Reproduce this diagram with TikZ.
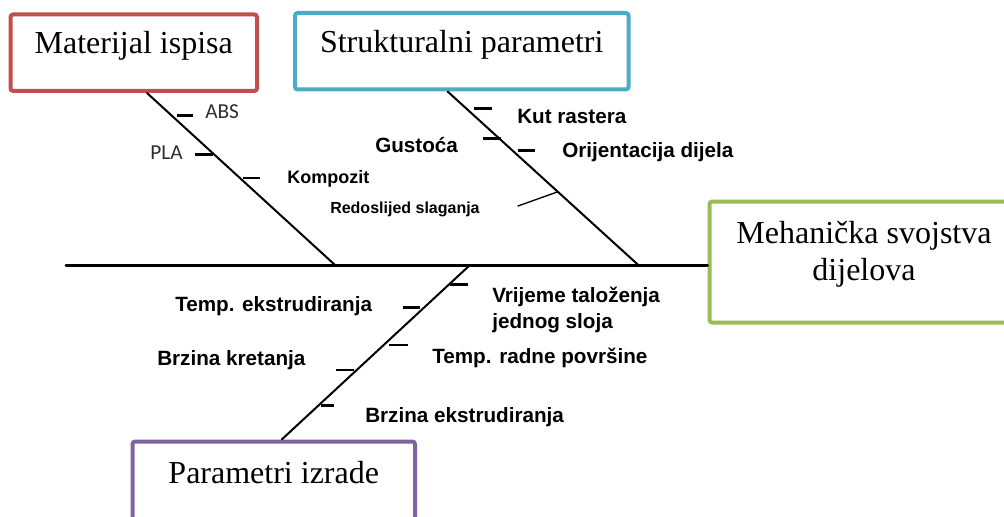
\documentclass[tikz,border=0pt]{standalone}
\usepackage{fontspec}
\setmainfont{Liberation Serif}
\newfontfamily\arialfont{Liberation Sans}
\newfontfamily\calibrifont{Carlito}
\usetikzlibrary{calc}

\definecolor{matred}{HTML}{C0504D}
\definecolor{strblue}{HTML}{4BACC6}
\definecolor{mehgreen}{HTML}{9BBB59}
\definecolor{izrviolet}{HTML}{8064A2}
\definecolor{plaingray}{HTML}{2E2E2E}

\newcommand{\px}{0.75pt}

\begin{document}
\begin{tikzpicture}[x=\px,y=-\px,cap=round,
	causebox/.style={draw, line width=3pt, rounded corners=2pt, fill=white, inner sep=0pt, font=\fontsize{24}{27.75}\selectfont},
	onerow/.style={text height=0.68em, text depth=0.5em},
	spine/.style={line width=2.25pt},
	bone/.style={line width=1.5pt},
	rib/.style={line width=2pt, line cap=butt},
	why/.style={font=\arialfont\bfseries\fontsize{15.5}{19.5}\selectfont, inner sep=0pt, anchor=base west, align=left},
	small why/.style={why, font=\arialfont\bfseries\fontsize{12}{14}\selectfont},
	mid why/.style={why, font=\arialfont\bfseries\fontsize{13.5}{16}\selectfont},
	plain why/.style={why, font=\calibrifont\fontsize{16}{18}\selectfont, text=plaingray}]

\useasboundingbox (0,0) rectangle (1004,517);
\fill[white] (0,0) rectangle (1004,517);

%the cause boxes
\node[causebox, onerow, draw=matred, minimum width=246.5*\px, minimum height=76.5*\px] (mat) at (133.75,52.75) {Materijal ispisa};
\node[causebox, onerow, draw=strblue, minimum width=333.5*\px, minimum height=76.5*\px] (str) at (461.75,51.25) {Strukturalni parametri};
\node[causebox, draw=izrviolet, minimum width=282.5*\px, minimum height=84*\px, text height=0.68em, text depth=0.68em] (izr) at (273.75,483.5) {Parametri izrade};

%the effect box
\node[causebox, draw=mehgreen, align=center, minimum width=309*\px, minimum height=121*\px] (meh) at (864,262) {Mehanička svojstva\\dijelova\rule[-0.715em]{0pt}{0pt}};

%ends of the bones
\coordinate (tail) at (66,265);
\coordinate (j1) at (335,265);
\coordinate (j2) at (638.3,265);
\coordinate (j3) at (470,265);
\coordinate (mtop) at ($(mat.south)+(13.25,0)$);
\coordinate (stop) at ($(str.south)+(-14.15,0)$);
\coordinate (ibot) at ($(izr.north)+(8,0)$);

%spine and bones
\draw[spine] (tail) -- (tail -| meh.west);
\draw[bone] (mtop) -- (j1);
\draw[bone] (stop) -- (j2);
\draw[bone] (j3) -- (ibot);

%ribs on the material bone
\foreach \t/\a/\b in {.132/5/16, .356/-1/-18, .494/3/17} {
	\draw[rib] ($(mtop)!\t!(j1)$) ++(\a,0) -- ++(\b,0);
}

%ribs on the structure bone
\foreach \t/\a/\b in {.0997/7/18, .27/2/-18, .339/6/17} {
	\draw[rib] ($(stop)!\t!(j2)$) ++(\a,0) -- ++(\b,0);
}

%ribs on the process bone
\foreach \t/\a/\b in {.113/1.5/18, .244/-4.5/-17, .459/5/19, .601/-3/-18, .805/2.5/13} {
	\draw[rib] ($(j3)!\t!(ibot)$) ++(\a,0) -- ++(\b,0);
}

%leader for the stacking order
\coordinate (lead) at (518,206);
\draw[line width=1pt] (lead) -- ($(stop)!.578!(j2)$);

%labels
\node[plain why] (abs) at (205,118) {ABS};
\node[plain why] (pla) at (150,160) {PLA};
\node[mid why] (komp) at (287,184) {Kompozit};
\node[small why] (redo) at (330,213) {Redoslijed slaganja};
\node[why] (kut) at (517,123) {Kut rastera};
\node[why] (gust) at (375,152) {Gustoća};
\node[why] (orij) at (562,157) {Orijentacija dijela};
\node[why] (tempe) at (175,311) {Temp. ekstrudiranja};
\node[why] (brzk) at (157,365) {Brzina kretanja};
\node[why] (vrij) at (492,328) {Vrijeme taloženja\\jednog sloja};
\node[why] (tempr) at (432,363) {Temp. radne površine};
\node[why] (brze) at (365,422) {Brzina ekstrudiranja};
\end{tikzpicture}
\end{document}
